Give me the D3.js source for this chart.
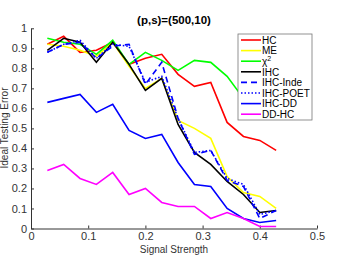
<!DOCTYPE html>
<html>
<head>
<meta charset="utf-8">
<script src="https://cdn.jsdelivr.net/npm/d3@7"></script>
<style>
  body { margin: 0; background: #fff; }
  text { font-family: "Liberation Sans", Arial, sans-serif; }
</style>
</head>
<body>
<svg id="chart" width="346" height="257"></svg>
<script>
// Signal strength values (k/35, k = 1..15)
var strength = d3.range(1, 16).map(function (k) { return k / 35; });

// Ideal testing error for each method
var hc      = [0.92, 0.96, 0.88, 0.89, 0.93, 0.82, 0.85, 0.87, 0.77, 0.71, 0.73, 0.53, 0.46, 0.44, 0.39];
var me      = [0.92, 0.91, 0.89, 0.86, 0.93, 0.81, 0.70, 0.75, 0.54, 0.50, 0.45, 0.26, 0.18, 0.16, 0.10];
var chi2    = [0.95, 0.93, 0.92, 0.87, 0.94, 0.82, 0.88, 0.84, 0.79, 0.84, 0.83, 0.76, 0.65, 0.62, 0.58];
var ihc     = [0.89, 0.95, 0.93, 0.83, 0.93, 0.82, 0.69, 0.75, 0.52, 0.38, 0.32, 0.235, 0.17, 0.08, 0.09];
var ihcInde = [0.88, 0.92, 0.93, 0.85, 0.91, 0.92, 0.72, 0.83, 0.55, 0.37, 0.39, 0.24, 0.21, 0.05, 0.09];
var ihcPoet = [0.88, 0.92, 0.94, 0.85, 0.92, 0.91, 0.73, 0.76, 0.55, 0.38, 0.39, 0.25, 0.22, 0.07, 0.09];
var ihcDD   = [0.63, 0.65, 0.67, 0.58, 0.62, 0.49, 0.45, 0.47, 0.33, 0.22, 0.21, 0.10, 0.05, 0.03, 0.04];
var ddHC    = [0.29, 0.32, 0.25, 0.22, 0.28, 0.17, 0.20, 0.13, 0.11, 0.11, 0.05, 0.08, 0.05, 0.01, 0.01];

var xTicks = [0, 0.1, 0.2, 0.3, 0.4, 0.5];
var yTicks = [0, 0.1, 0.2, 0.3, 0.4, 0.5, 0.6, 0.7, 0.8, 0.9, 1];

var series = [
  { name: "HC",       values: hc,      color: "#ff0000", dash: null },
  { name: "ME",       values: me,      color: "#ffff00", dash: null },
  { name: "chi2",     values: chi2,    color: "#00ff00", dash: null },
  { name: "IHC",      values: ihc,     color: "#000000", dash: null },
  { name: "IHC-Inde", values: ihcInde, color: "#0000ff", dash: "6,4" },
  { name: "IHC-POET", values: ihcPoet, color: "#0000ff", dash: "1.5,2" },
  { name: "IHC-DD",   values: ihcDD,   color: "#0000ff", dash: null },
  { name: "DD-HC",    values: ddHC,    color: "#ff00ff", dash: null }
];

var svg = d3.select("#chart");

var x = d3.scaleLinear().domain([0, 0.5]).range([31, 317]);
var y = d3.scaleLinear().domain([0, 1]).range([228.5, 28.3]);

// Axes: MATLAB style, ticks pointing inward, no box
var xAxis = svg.append("g")
  .attr("transform", "translate(0," + y(0) + ")")
  .call(d3.axisBottom(x).tickValues(xTicks).tickSizeInner(-3).tickSizeOuter(0)
    .tickFormat(function (d) { return d === 0 ? "0" : d3.format(".1f")(d); }));
xAxis.selectAll("text").attr("y", 4).attr("dy", "0.71em").attr("font-size", 11).attr("fill", "#333");

var yAxis = svg.append("g")
  .attr("transform", "translate(" + x(0) + ",0)")
  .call(d3.axisLeft(y).tickValues(yTicks).tickSizeInner(-3).tickSizeOuter(0)
    .tickFormat(function (d) { return d === 0 ? "0" : d === 1 ? "1" : d3.format(".1f")(d); }));
yAxis.selectAll("text").attr("x", -4).attr("font-size", 11).attr("fill", "#333");

svg.selectAll(".domain, .tick line").attr("stroke", "#333");

// Lines
var line = d3.line()
  .x(function (d, i) { return x(strength[i]); })
  .y(function (d) { return y(d); });

svg.selectAll(".series")
  .data(series)
  .enter().append("path")
  .attr("class", "series")
  .attr("d", function (s) { return line(s.values); })
  .attr("fill", "none")
  .attr("stroke", function (s) { return s.color; })
  .attr("stroke-width", 1.6)
  .attr("stroke-dasharray", function (s) { return s.dash; });

// Title and labels
svg.append("text")
  .attr("x", 174).attr("y", 24)
  .attr("text-anchor", "middle")
  .attr("font-size", 11.5).attr("font-weight", "bold")
  .text("(p,s)=(500,10)");

svg.append("text")
  .attr("x", 174).attr("y", 253)
  .attr("text-anchor", "middle")
  .attr("font-size", 10).attr("fill", "#333")
  .text("Signal Strength");

svg.append("text")
  .attr("transform", "translate(8,128) rotate(-90)")
  .attr("text-anchor", "middle")
  .attr("font-size", 10).attr("fill", "#333")
  .text("Ideal Testing Error");

// Legend
var legend = svg.append("g").attr("transform", "translate(238,34)");
legend.append("rect")
  .attr("width", 74).attr("height", 86)
  .attr("fill", "#fff").attr("stroke", "#777").attr("stroke-width", 0.8);

var item = legend.selectAll(".item")
  .data(series)
  .enter().append("g")
  .attr("class", "item")
  .attr("transform", function (d, i) { return "translate(0," + (6 + i * 10.6) + ")"; });

item.append("line")
  .attr("x1", 3).attr("x2", 23)
  .attr("stroke", function (s) { return s.color; })
  .attr("stroke-width", 1.6)
  .attr("stroke-dasharray", function (s) { return s.dash; });

item.append("text")
  .attr("x", 24).attr("y", 3.8)
  .attr("font-size", 10)
  .each(function (s) {
    var t = d3.select(this);
    if (s.name === "chi2") {
      t.text("\u03c7");
      t.append("tspan").attr("dy", -4).attr("font-size", 7).text("2");
    } else {
      t.text(s.name);
    }
  });
</script>
</body>
</html>
